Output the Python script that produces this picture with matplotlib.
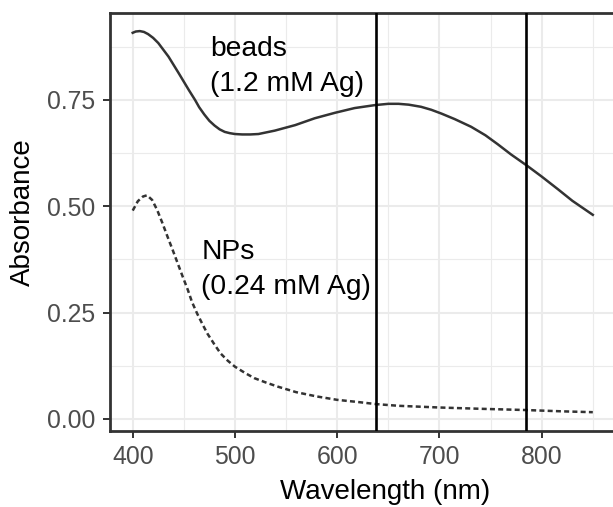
import numpy as np
import matplotlib
matplotlib.use("Agg")
import matplotlib.pyplot as plt

plt.rcParams["font.family"] = ["Liberation Sans", "DejaVu Sans"]

# Beads spectrum (solid line)
beads_nm = [400, 403, 407, 411, 415, 420, 425, 435, 445, 455, 461, 465, 470,
            475, 480, 485, 490, 495, 500, 507, 515, 523, 539, 559, 578, 598,
            617, 637, 650, 660, 670, 682, 692, 702, 715, 731, 745, 757, 770,
            786, 800, 816, 830, 850]
beads_abs = [0.908, 0.911, 0.912, 0.910, 0.905, 0.896, 0.884, 0.852, 0.813,
             0.773, 0.750, 0.733, 0.716, 0.701, 0.690, 0.681, 0.675, 0.672,
             0.670, 0.669, 0.669, 0.670, 0.678, 0.691, 0.707, 0.720, 0.731,
             0.738, 0.741, 0.741, 0.739, 0.734, 0.727, 0.718, 0.705, 0.687,
             0.667, 0.646, 0.622, 0.595, 0.570, 0.540, 0.513, 0.480]

# NPs spectrum (dashed line)
nps_nm = [400, 405, 410, 414, 419, 424, 429, 434, 439, 444, 449, 454, 458,
          463, 468, 473, 480, 486, 493, 500, 510, 519, 530, 542, 560, 580,
          600, 620, 638, 660, 680, 700, 740, 785, 820, 850]
nps_abs = [0.490, 0.512, 0.523, 0.526, 0.515, 0.491, 0.461, 0.429, 0.398,
           0.366, 0.334, 0.303, 0.275, 0.248, 0.224, 0.201, 0.175, 0.154,
           0.137, 0.123, 0.108, 0.096, 0.086, 0.076, 0.063, 0.053, 0.045,
           0.040, 0.035, 0.031, 0.029, 0.027, 0.024, 0.021, 0.018, 0.016]

# Laser lines
laser_nm = [638, 785]

x_ticks = [400, 500, 600, 700, 800]
y_ticks = [0.00, 0.25, 0.50, 0.75]
y_tick_labels = ["0.00", "0.25", "0.50", "0.75"]

W, H = 613, 507
fig = plt.figure(figsize=(W / 100, H / 100), dpi=100)
fig.patch.set_facecolor("white")

left, right, bottom, top = 109.7, 615.8, 430.9, 12.8
ax = fig.add_axes([left / W, (H - bottom) / H, (right - left) / W, (bottom - top) / H])
ax.set_facecolor("white")

ax.set_xlim(377.5, 872.5)
ax.set_ylim(-0.028, 0.955)

# theme_bw grid
ax.set_xticks(x_ticks)
ax.set_xticks([450, 550, 650, 750, 850], minor=True)
ax.set_yticks(y_ticks)
ax.set_yticklabels(y_tick_labels)
ax.set_yticks([0.125, 0.375, 0.625, 0.875], minor=True)
ax.grid(True, which="major", color="#EBEBEB", linewidth=1.5)
ax.grid(True, which="minor", color="#EBEBEB", linewidth=0.8)
ax.set_axisbelow(True)

ax.tick_params(which="major", length=5, width=1.4, color="#333333",
               labelsize=17.8, labelcolor="#4D4D4D", pad=5.5)
ax.tick_params(which="minor", length=0)

for spine in ax.spines.values():
    spine.set_color("#333333")
    spine.set_linewidth(2.0)

ax.plot(beads_nm, beads_abs, color="#333333", linewidth=1.8,
        solid_joinstyle="round", zorder=3)
ax.plot(nps_nm, nps_abs, color="#333333", linewidth=1.8,
        dashes=(2.0, 1.3), zorder=3)
for xv in laser_nm:
    ax.axvline(xv, color="black", linewidth=1.9, zorder=4)

# annotations
ax.text(475.5, 0.853, "beads", fontsize=20.3, color="black", va="baseline", ha="left")
ax.text(475.5, 0.771, "(1.2 mM Ag)", fontsize=20.3, color="black", va="baseline", ha="left")
ax.text(467, 0.376, "NPs", fontsize=20.3, color="black", va="baseline", ha="left")
ax.text(467, 0.294, "(0.24 mM Ag)", fontsize=20.3, color="black", va="baseline", ha="left")

ax.set_xlabel("Wavelength (nm)", fontsize=20, color="black", va="baseline")
ax.xaxis.set_label_coords((385.5 - left) / (right - left), (bottom - 499) / (bottom - top))
ax.set_ylabel("Absorbance", fontsize=20, color="black", va="center", ha="center")
ax.yaxis.set_label_coords((22.5 - left) / (right - left), (bottom - 212) / (bottom - top))

fig.savefig("out.png", dpi=100, facecolor="white")
